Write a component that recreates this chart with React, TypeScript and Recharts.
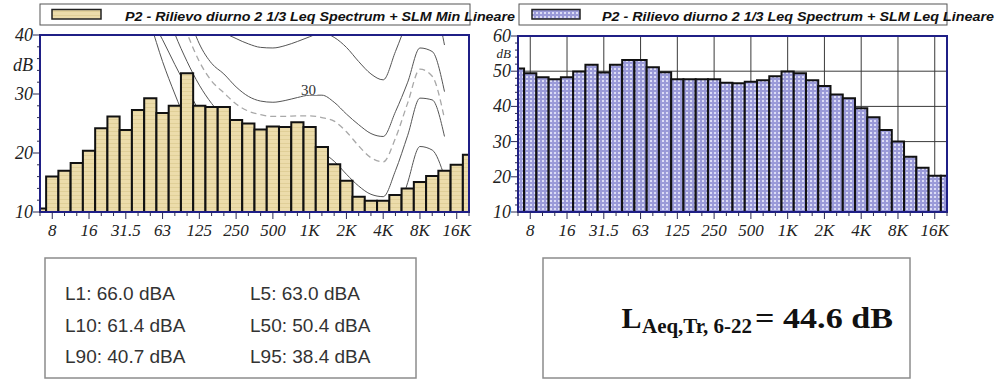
import React from "react";
import {
  ComposedChart,
  Bar,
  Line,
  XAxis,
  YAxis,
  CartesianGrid,
  ReferenceArea,
  ReferenceDot,
} from "recharts";

// 1/3 octave bands, 6.3 Hz .. 20 kHz
const bands = [
  "6.3", "8", "10", "12.5", "16", "20", "25", "31.5", "40", "50", "63", "80",
  "100", "125", "160", "200", "250", "315", "400", "500", "630", "800", "1K",
  "1.25K", "1.6K", "2K", "2.5K", "3.15K", "4K", "5K", "6.3K", "8K", "10K",
  "12.5K", "16K", "20K",
];
const tickLabels = ["8", "16", "31.5", "63", "125", "250", "500", "1K", "2K", "4K", "8K", "16K"];

// SLM Min Lineare (left) and SLM Leq Lineare (right), dB
const minLevels = [
  10.6, 16.0, 17.0, 18.3, 20.4, 24.2, 26.2, 23.9, 27.3, 29.3, 26.8, 28.0,
  33.5, 28.0, 27.8, 27.8, 25.6, 25.0, 24.0, 24.5, 24.4, 25.2, 24.4, 21.0,
  18.1, 15.3, 12.6, 11.9, 11.9, 12.9, 14.0, 15.1, 16.1, 17.0, 18.0, 19.7,
];
const leqLevels = [
  50.8, 49.4, 48.3, 47.7, 48.3, 49.9, 51.8, 49.6, 51.8, 53.2, 53.2, 51.1,
  49.7, 47.7, 47.7, 47.7, 47.7, 46.7, 46.6, 47.0, 47.4, 48.6, 49.9, 49.4,
  47.4, 45.8, 43.4, 42.3, 39.5, 36.9, 33.3, 30.0, 25.7, 22.6, 20.3, 20.3,
];

const leftLevelTicks = [10, 12, 14, 16, 18, 20, 22, 24, 26, 28, 30, 32, 34, 36, 38, 40];
const rightLevelTicks = [
  10, 12, 14, 16, 18, 20, 22, 24, 26, 28, 30, 32, 34, 36, 38, 40, 42, 44, 46,
  48, 50, 52, 54, 56, 58, 60,
];
const rightGridLevels = [20, 30, 40, 50];

// loudness contours drawn behind the left spectrum (start = first band index)
const contourLowest = { start: 8, values: [48, 42, 35.5, 30, 25, 21, 17.5, 14.5, 12, 10, 8, 6.5] };
const contour10 = {
  start: 9,
  values: [43, 39.2, 35, 31, 27, 23.5, 20.5, 18, 16, 14.5, 13.2, 12.3, 11.8, 11.6, 11, 9.5, 7.5, 5.5, 4, 3.5, 8, 15, 21.1, 20.5, 16],
};
const contour20 = {
  start: 10,
  values: [46, 40.2, 35.5, 31.5, 28.4, 26, 24, 22.5, 21.3, 20.6, 20.2, 20.2, 20.3, 20, 18.6, 16.4, 14.4, 13, 12.6, 17, 23, 29.3, 29, 22.8],
};
const contourDashed = {
  start: 11,
  values: [46, 40.3, 35.5, 32.2, 30.2, 28.3, 27.1, 26.5, 26.2, 26.2, 26.3, 26.3, 26.0, 25.4, 23.6, 21.2, 19.2, 18.5, 22.5, 28.5, 34.2, 33, 25.8],
};
const contour30 = {
  start: 12,
  values: [44, 38.5, 35.2, 33.4, 31.2, 29.6, 28.8, 28.6, 28.9, 29.4, 29.8, 29.8, 28.6, 26.6, 24.8, 23.3, 22.8, 27, 32, 37.8, 37.2, 30.4],
};
const contour40 = {
  start: 13,
  values: [48, 43.5, 40.6, 39.4, 38.5, 37.9, 37.8, 38.2, 38.9, 39.7, 40.4, 39.6, 37.9, 35.5, 33.4, 32.4, 37.2, 42.5, 47, 46, 38.3],
};

const bandIndex = bands.map((_, i) => i);
const octaveIndex = tickLabels.map((l) => bands.indexOf(l));

const at = (c: { start: number; values: number[] }, i: number) =>
  i >= c.start && i - c.start < c.values.length ? c.values[i - c.start] : null;

const leftRows = bands.map((band, i) => ({
  i,
  band,
  level: minLevels[i],
  cLow: at(contourLowest, i),
  c10: at(contour10, i),
  c20: at(contour20, i),
  cDash: at(contourDashed, i),
  c30: at(contour30, i),
  c40: at(contour40, i),
}));
const rightRows = bands.map((band, i) => ({ i, band, level: leqLevels[i] }));

const navy = "#1f1f86";
const tickInk = "#2a2a55";
const serif = "'Liberation Serif', 'Times New Roman', serif";
const sans = "'Liberation Sans', Arial, sans-serif";

function FreqTick(props: any) {
  const { x, y, payload } = props;
  const label = bands[payload.value];
  const major = tickLabels.includes(label);
  return (
    <g>
      <line x1={x} y1={y} x2={x} y2={y + (major ? 7 : 4)} stroke={tickInk} strokeWidth={1} />
      {major && (
        <text x={x} y={y + 24} textAnchor="middle" fontFamily={serif} fontStyle="italic" fontSize={17} fill="#222">
          {label}
        </text>
      )}
    </g>
  );
}

function LevelTick(props: any) {
  const { x, y, payload } = props;
  const major = payload.value % 10 === 0;
  return (
    <g>
      <line x1={x - (major ? 7 : 3)} y1={y} x2={x} y2={y} stroke={tickInk} strokeWidth={1} />
      {major && (
        <text x={x - 7} y={y + 6} textAnchor="end" fontFamily={serif} fontStyle="italic" fontSize={18} fill="#222">
          {payload.value}
        </text>
      )}
    </g>
  );
}

function UnitLabel(props: any) {
  const vb = props.viewBox;
  if (!vb) return null;
  return (
    <text x={vb.x + vb.width - 7} y={vb.y + props.dy} textAnchor="end" fontFamily={serif} fontStyle="italic" fontSize={props.size} fill="#222">
      dB
    </text>
  );
}

function PhonLabel(props: any) {
  const { cx, cy } = props;
  return (
    <g>
      <rect x={cx - 9} y={cy - 7} width={18} height={12} fill="#fff" />
      <text x={cx} y={cy + 5} textAnchor="middle" fontFamily={serif} fontSize={15} fill="#333">
        30
      </text>
    </g>
  );
}

const contourLine = { type: "monotone" as const, dot: false, isAnimationActive: false, connectNulls: false, zIndex: 250 };

export default function App() {
  return (
    <div style={{ position: "absolute", left: 0, top: 0, width: 1000, height: 380, background: "#fff", overflow: "hidden" }}>
      <svg width={0} height={0} style={{ position: "absolute" }}>
        <defs>
          <pattern id="leqDots" width={4} height={4} patternUnits="userSpaceOnUse">
            <rect width={4} height={4} fill="#9a9ad8" />
            <rect width={2} height={2} fill="#dcdcf6" />
          </pattern>
          <pattern id="minTan" width={4} height={4} patternUnits="userSpaceOnUse">
            <rect width={4} height={4} fill="#ecdcab" />
            <rect y={3} width={4} height={1} fill="#e0cf98" />
          </pattern>
        </defs>
      </svg>

      <div style={{ position: "absolute", left: 0, top: 0 }}>
        <ComposedChart width={480} height={242} data={leftRows} margin={{ top: 35, right: 11, bottom: 0, left: 0 }}>
          <XAxis
            dataKey="i"
            type="number"
            domain={[0, 35]}
            ticks={bandIndex}
            interval={0}
            allowDataOverflow
            height={30}
            tickSize={0}
            tickMargin={0}
            tickLine={false}
            axisLine={{ stroke: navy, strokeWidth: 1 }}
            tick={FreqTick}
          />
          <YAxis
            type="number"
            domain={[10, 40]}
            ticks={leftLevelTicks}
            interval={0}
            allowDataOverflow
            width={40}
            tickSize={0}
            tickMargin={0}
            tickLine={false}
            axisLine={{ stroke: navy, strokeWidth: 2 }}
            tick={LevelTick}
            label={(p: any) => <UnitLabel {...p} dy={36} size={18} />}
          />
          <Line dataKey="cLow" stroke="#555" strokeWidth={1} {...contourLine} />
          <Line dataKey="c10" stroke="#555" strokeWidth={1} {...contourLine} />
          <Line dataKey="c20" stroke="#555" strokeWidth={1} {...contourLine} />
          <Line dataKey="cDash" stroke="#a8a8a8" strokeWidth={1.3} strokeDasharray="6 4" {...contourLine} />
          <Line dataKey="c30" stroke="#555" strokeWidth={1} {...contourLine} />
          <Line dataKey="c40" stroke="#555" strokeWidth={1} {...contourLine} />
          <Bar dataKey="level" barSize={12.2} fill="url(#minTan)" stroke="#111" strokeWidth={2} isAnimationActive={false} />
          <ReferenceDot x={21.9} y={30.7} r={0} shape={(p: any) => <PhonLabel {...p} />} zIndex={700} />
          <ReferenceArea x1={0} x2={35} y1={10} y2={40} fill="none" stroke={navy} strokeWidth={2} zIndex={700} />
        </ComposedChart>
      </div>

      <div style={{ position: "absolute", left: 478, top: 0 }}>
        <ComposedChart width={480} height={242} data={rightRows} margin={{ top: 36, right: 11, bottom: 0, left: 0 }}>
          <CartesianGrid horizontalValues={rightGridLevels} verticalValues={octaveIndex} stroke="#3a3a3a" strokeWidth={1} />
          <XAxis
            dataKey="i"
            type="number"
            domain={[0, 35]}
            ticks={bandIndex}
            interval={0}
            allowDataOverflow
            height={30}
            tickSize={0}
            tickMargin={0}
            tickLine={false}
            axisLine={{ stroke: navy, strokeWidth: 1 }}
            tick={FreqTick}
          />
          <YAxis
            type="number"
            domain={[10, 60]}
            ticks={rightLevelTicks}
            interval={0}
            allowDataOverflow
            width={40}
            tickSize={0}
            tickMargin={0}
            tickLine={false}
            axisLine={{ stroke: navy, strokeWidth: 2 }}
            tick={LevelTick}
            label={(p: any) => <UnitLabel {...p} dy={21.7} size={13} />}
          />
          <Bar dataKey="level" barSize={12.2} fill="url(#leqDots)" stroke="#111" strokeWidth={2} isAnimationActive={false} />
          <ReferenceArea x1={0} x2={35} y1={10} y2={60} fill="none" stroke={navy} strokeWidth={2} zIndex={700} />
        </ComposedChart>
      </div>

      <svg width={1000} height={380} style={{ position: "absolute", left: 0, top: 0, pointerEvents: "none" }}>
        {/* legends */}
        <rect x={40} y={4} width={430} height={21} fill="none" stroke="#555" strokeWidth={1} />
        <rect x={52} y={9.5} width={49} height={9.5} fill="url(#minTan)" stroke="#222" strokeWidth={1.5} />
        <text x={125} y={20.5} fontFamily={sans} fontWeight="bold" fontStyle="italic" fontSize={13.5} fill="#111" textLength={390} lengthAdjust="spacingAndGlyphs">
          P2 - Rilievo diurno 2 1/3 Leq Spectrum + SLM Min Lineare
        </text>
        <rect x={519} y={4} width={428} height={21} fill="none" stroke="#555" strokeWidth={1} />
        <rect x={532} y={9.5} width={48} height={9.5} fill="url(#leqDots)" stroke="#222" strokeWidth={1.5} />
        <text x={602} y={20.5} fontFamily={sans} fontWeight="bold" fontStyle="italic" fontSize={13.5} fill="#111" textLength={392} lengthAdjust="spacingAndGlyphs">
          P2 - Rilievo diurno 2 1/3 Leq Spectrum + SLM Leq Lineare
        </text>

        {/* percentile levels */}
        <rect x={45} y={258} width={371} height={120} fill="none" stroke="#8c8c8c" strokeWidth={1.5} />
        <g fontFamily={sans} fontSize={19} fill="#333">
          <text x={65} y={300}>L1: 66.0 dBA</text>
          <text x={250} y={300}>L5: 63.0 dBA</text>
          <text x={65} y={331.7}>L10: 61.4 dBA</text>
          <text x={250} y={331.7}>L50: 50.4 dBA</text>
          <text x={65} y={363.3}>L90: 40.7 dBA</text>
          <text x={250} y={363.3}>L95: 38.4 dBA</text>
        </g>

        {/* equivalent level */}
        <rect x={543} y={258} width={367} height={120} fill="none" stroke="#8c8c8c" strokeWidth={1.5} />
        <g fontFamily={serif} fontWeight="bold" fill="#111">
          <text x={621.5} y={328} fontSize={30}>L</text>
          <text x={642} y={332.5} fontSize={20} textLength={110} lengthAdjust="spacingAndGlyphs">Aeq,Tr, 6-22</text>
          <text x={755} y={328} fontSize={30} textLength={138} lengthAdjust="spacingAndGlyphs">= 44.6 dB</text>
        </g>
      </svg>
    </div>
  );
}
